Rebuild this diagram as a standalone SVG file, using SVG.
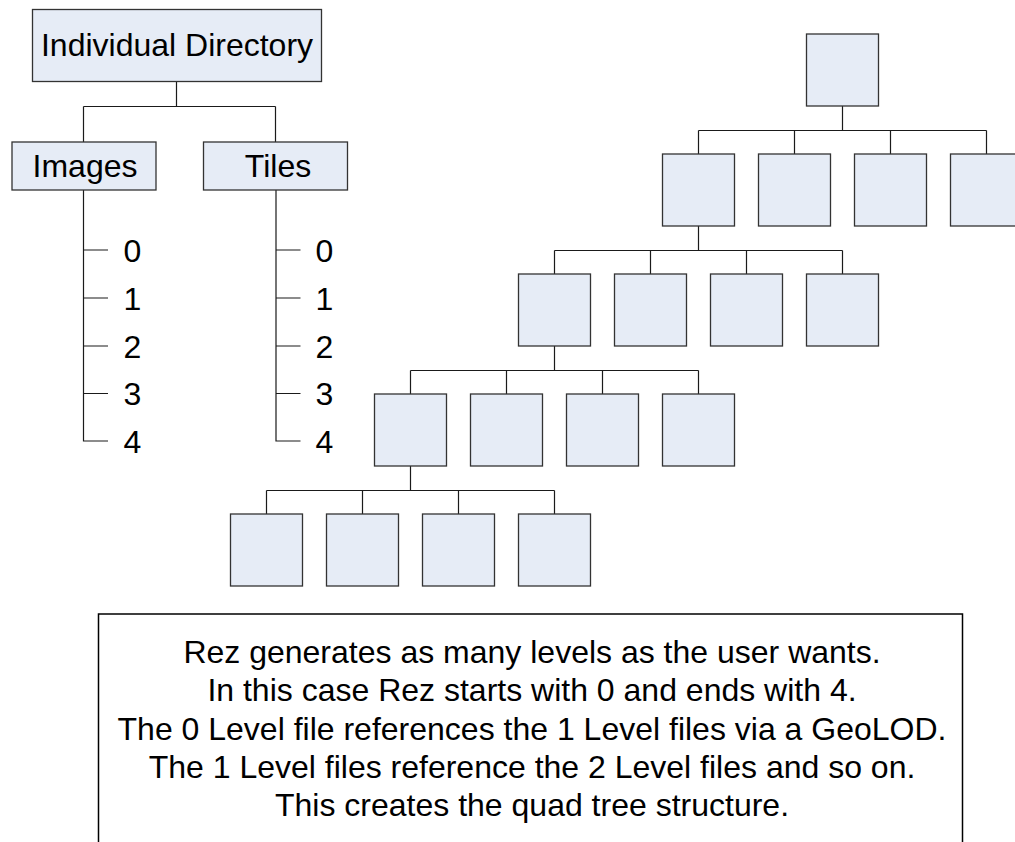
<svg xmlns="http://www.w3.org/2000/svg" width="1015" height="842" viewBox="0 0 1015 842">
<style>
.n{fill:#e6ecf6;stroke:#333;stroke-width:1.3}
.c{fill:none;stroke:#1a1a1a;stroke-width:1.2}
.t{font-family:"Liberation Sans",Arial,sans-serif;font-size:32px;fill:#000}
.m{text-anchor:middle}
</style>
<rect width="1015" height="842" fill="#fff"/>
<g id="connectors">
<path class="c" d="M176.5 82V106.5M83.5 106.5H275.5M83.5 106.5V142M275.5 106.5V142"/>
<path class="c" d="M83.5 190V441H108M83.5 250H108M83.5 298H108M83.5 346H108M83.5 393.5H108"/>
<path class="c" d="M276 190V441H300.5M276 250H300.5M276 298H300.5M276 346H300.5M276 393.5H300.5"/>
<path class="c" d="M842.5 106V130.5M698.5 130.5H986.5M698.5 130.5V154M794.5 130.5V154M890.5 130.5V154M986.5 130.5V154"/>
<path class="c" d="M698.5 226V250.5M554.5 250.5H842.5M554.5 250.5V274M650.5 250.5V274M746.5 250.5V274M842.5 250.5V274"/>
<path class="c" d="M554.5 346V370.5M410.5 370.5H698.5M410.5 370.5V394M506.5 370.5V394M602.5 370.5V394M698.5 370.5V394"/>
<path class="c" d="M410.5 466V490.5M266.5 490.5H554.5M266.5 490.5V514M362.5 490.5V514M458.5 490.5V514M554.5 490.5V514"/>
</g>
<g id="individual-directory"><rect class="n" x="32.5" y="9.5" width="289" height="72"/><text class="t m" x="177" y="56">Individual Directory</text></g>
<g id="images"><rect class="n" x="12" y="142" width="144" height="48"/><text class="t m" x="85" y="177">Images</text><text class="t" x="123.5" y="261.5">0</text><text class="t" x="123.5" y="309.5">1</text><text class="t" x="123.5" y="357.5">2</text><text class="t" x="123.5" y="405">3</text><text class="t" x="123.5" y="452.5">4</text></g>
<g id="tiles"><rect class="n" x="203.5" y="142" width="144" height="48"/><text class="t m" x="278" y="177">Tiles</text><text class="t" x="315.5" y="261.5">0</text><text class="t" x="315.5" y="309.5">1</text><text class="t" x="315.5" y="357.5">2</text><text class="t" x="315.5" y="405">3</text><text class="t" x="315.5" y="452.5">4</text></g>
<g id="level0"><rect class="n" x="806.5" y="34" width="72" height="72"/></g>
<g id="level1"><rect class="n" x="662.5" y="154" width="72" height="72"/><rect class="n" x="758.5" y="154" width="72" height="72"/><rect class="n" x="854.5" y="154" width="72" height="72"/><rect class="n" x="950.5" y="154" width="72" height="72"/></g>
<g id="level2"><rect class="n" x="518.5" y="274" width="72" height="72"/><rect class="n" x="614.5" y="274" width="72" height="72"/><rect class="n" x="710.5" y="274" width="72" height="72"/><rect class="n" x="806.5" y="274" width="72" height="72"/></g>
<g id="level3"><rect class="n" x="374.5" y="394" width="72" height="72"/><rect class="n" x="470.5" y="394" width="72" height="72"/><rect class="n" x="566.5" y="394" width="72" height="72"/><rect class="n" x="662.5" y="394" width="72" height="72"/></g>
<g id="level4"><rect class="n" x="230.5" y="514" width="72" height="72"/><rect class="n" x="326.5" y="514" width="72" height="72"/><rect class="n" x="422.5" y="514" width="72" height="72"/><rect class="n" x="518.5" y="514" width="72" height="72"/></g>
<g id="note"><rect x="98.5" y="614" width="864" height="240" fill="#fff" stroke="#000" stroke-width="1.5"/>
<text class="t m" x="532" y="663">Rez generates as many levels as the user wants.</text>
<text class="t m" x="532" y="701">In this case Rez starts with 0 and ends with 4.</text>
<text class="t m" x="532" y="739.5">The 0 Level file references the 1 Level files via a GeoLOD.</text>
<text class="t m" x="532" y="778">The 1 Level files reference the 2 Level files and so on.</text>
<text class="t m" x="532" y="816">This creates the quad tree structure.</text></g>
</svg>
